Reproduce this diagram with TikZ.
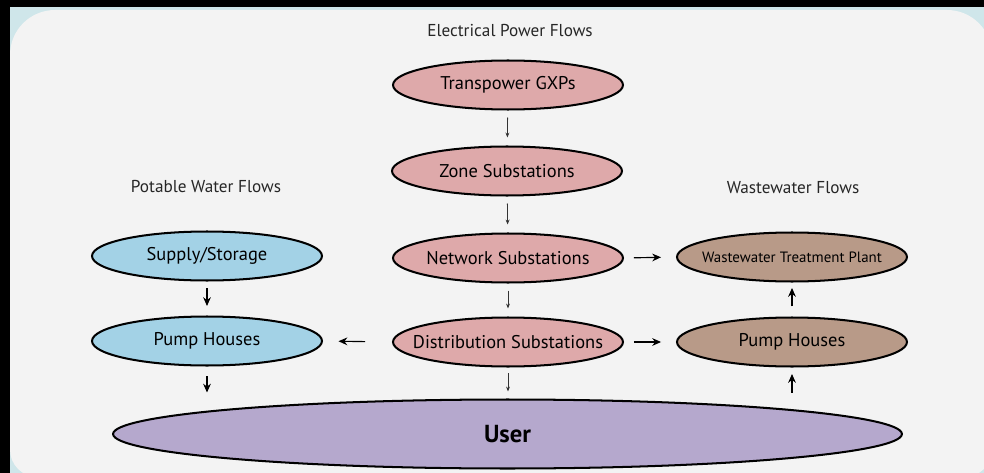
\documentclass[tikz,border=0pt]{standalone}
\usepackage{fontspec}
\setmainfont{PT Sans}
\usetikzlibrary{shapes.geometric,arrows.meta}
\definecolor{elecpink}{RGB}{222,169,170}
\definecolor{waterblue}{RGB}{163,210,230}
\definecolor{wastebrown}{RGB}{184,154,136}
\definecolor{userpurple}{RGB}{181,168,205}
\definecolor{panelgray}{RGB}{243,243,243}
\definecolor{framecyan}{RGB}{207,230,234}

\begin{document}
\begin{tikzpicture}[x=0.02cm,y=-0.02cm,
    flow/.style={ellipse, draw, line width=1.15pt, minimum width=4.6cm, minimum height=0.98cm,
        inner xsep=-2em, inner ysep=0pt, font=\fontsize{10.5}{12}\selectfont},
    heading/.style={font=\fontsize{9.8}{11}\selectfont, text=black!85},
    elecarrow/.style={-{Stealth[length=2.8pt,width=2.2pt]}, line width=0.45pt, black!80,
        shorten <=0.14cm, shorten >=0.16cm},
    pipearrow/.style={-{Stealth[length=5pt,width=4.4pt]}, line width=0.65pt}]
    \useasboundingbox (0,0) rectangle (984,473);
    \fill[black] (0,0) rectangle (984,473);
    \fill[framecyan] (10,7) rectangle (984,473);
    \begin{scope}
        \clip (10,7) rectangle (984,473);
        \fill[panelgray] (10,240) [rounded corners=0.9cm] -- (10,10) -- (992,10) -- (992,240)
            [rounded corners=0.55cm] -- (992,477) -- (10,477) -- cycle;
    \end{scope}

    \node[heading] (elechead) at (510,31) {Electrical Power Flows};
    \node[heading] (waterhead) at (206,187) {Potable Water Flows};
    \node[heading] (wastehead) at (793,188) {Wastewater Flows};

    \node[flow, fill=elecpink] (gxp) at (508,85) {Transpower GXPs};
    \node[flow, fill=elecpink] (zone) at (507,171) {Zone Substations};
    \node[flow, fill=elecpink] (network) at (508,258) {Network Substations};
    \node[flow, fill=elecpink] (distrib) at (508,342) {Distribution Substations};
    \node[flow, fill=waterblue] (supply) at (207,256) {Supply/Storage};
    \node[flow, fill=waterblue] (waterpump) at (207,341) {Pump Houses};
    \node[flow, fill=wastebrown, font=\fontsize{8.5}{10}\selectfont] (plant) at (792,257) {Wastewater Treatment Plant};
    \node[flow, fill=wastebrown] (wastepump) at (792,342) {Pump Houses};
    \node[flow, fill=userpurple, minimum width=15.78cm, minimum height=1.38cm,
        font=\fontsize{14}{16}\selectfont\bfseries] (user) at (507.5,434) {User};

    \draw[elecarrow] (gxp) -- (zone);
    \draw[elecarrow] (zone) -- (network);
    \draw[elecarrow] (network) -- (distrib);
    \draw[elecarrow, shorten <=0.11cm, shorten >=0.14cm] (distrib) -- (distrib |- user.north);

    \draw[pipearrow, shorten <=0.13cm, shorten >=0.19cm] (supply) -- (waterpump);
    \draw[pipearrow, shorten <=0.19cm, shorten >=0.12cm] (waterpump.south) -- (waterpump.south |- user.north);
    \draw[pipearrow, shorten <=0.54cm, shorten >=0.31cm] (distrib.west) -- (waterpump.east);
    \draw[pipearrow, shorten <=0.2cm, shorten >=0.3cm] (distrib.east) -- (wastepump.west);
    \draw[pipearrow, shorten <=0.2cm, shorten >=0.3cm] (network.east) -- (plant.west);
    \draw[pipearrow, shorten <=0.12cm, shorten >=0.13cm] (wastepump.south |- user.north) -- (wastepump.south);
    \draw[pipearrow, shorten <=0.2cm, shorten >=0.11cm] (wastepump) -- (plant);
\end{tikzpicture}
\end{document}
